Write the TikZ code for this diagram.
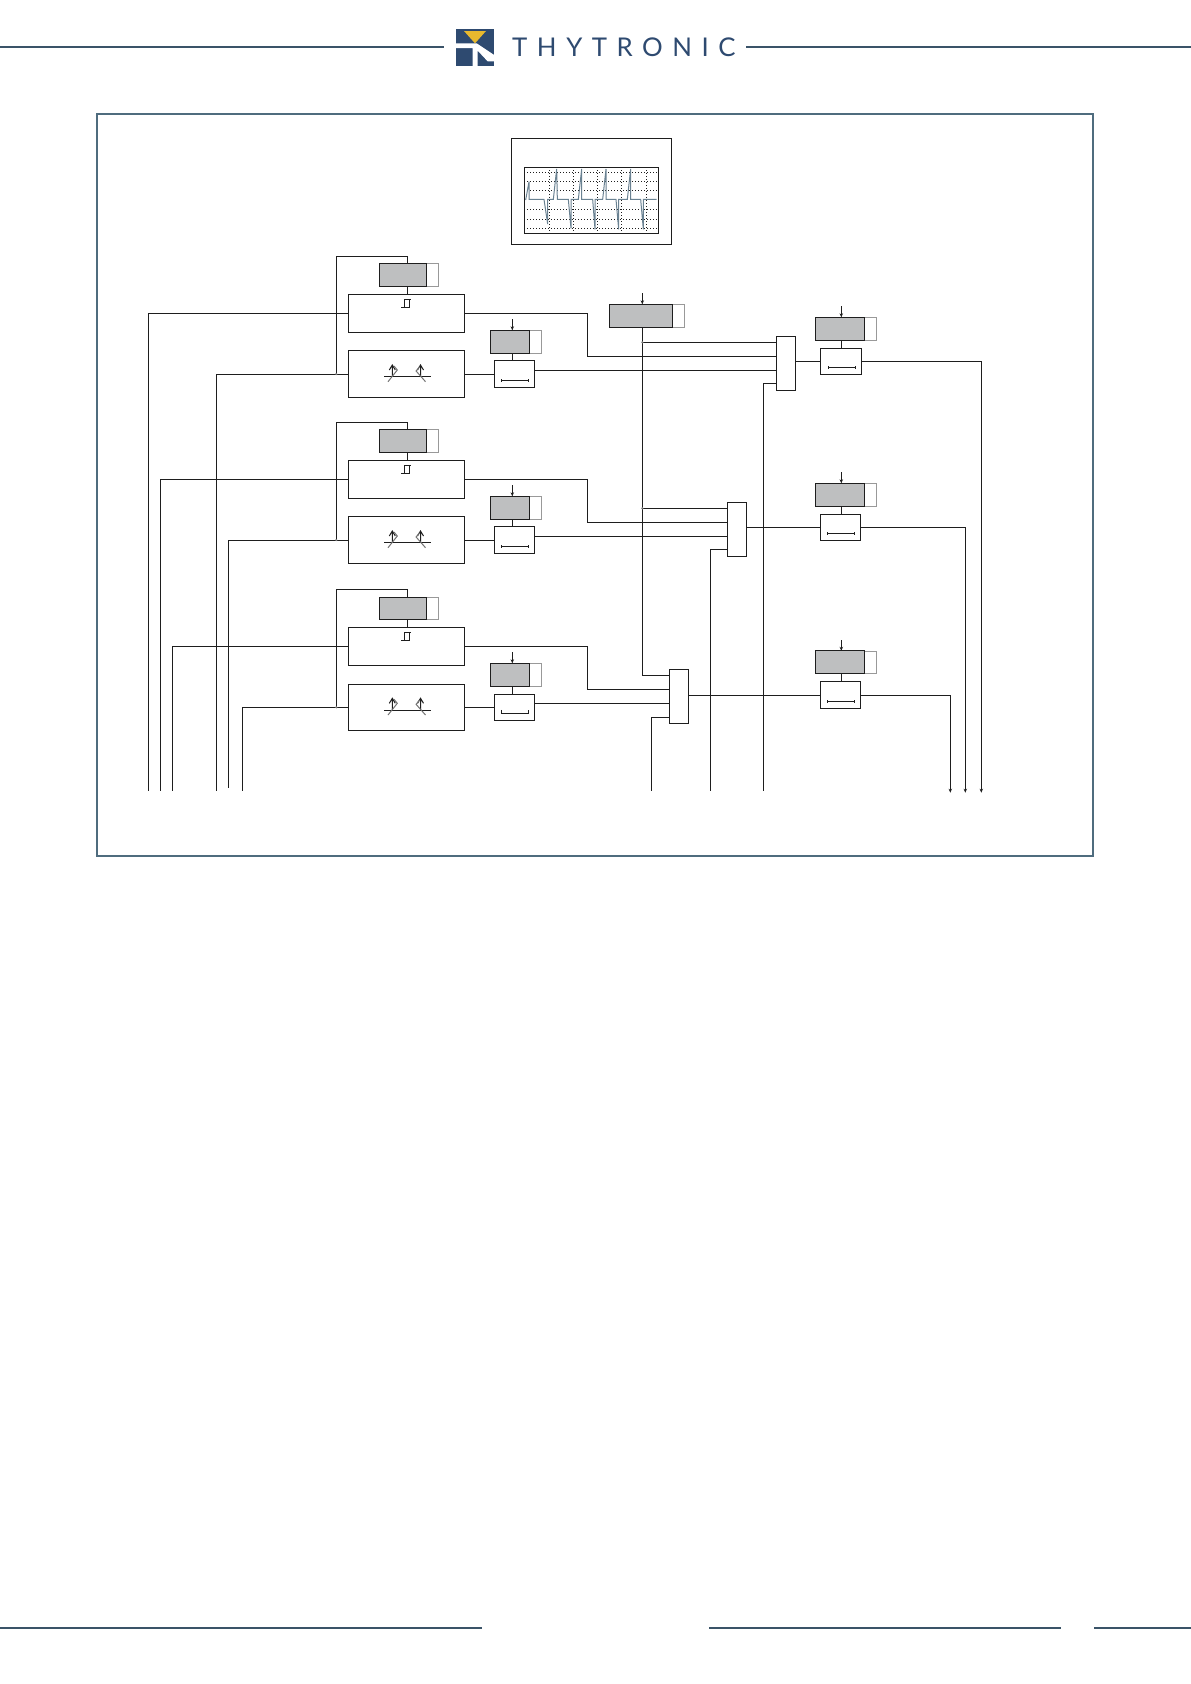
\documentclass[tikz,border=0pt]{standalone}
\usepackage{fontspec}
\usetikzlibrary{positioning, arrows.meta}
\newfontfamily\logofont[LetterSpace=37]{Lato}
\definecolor{navy}{HTML}{2E4A70}
\definecolor{rule}{HTML}{3A5368}
\definecolor{framecol}{HTML}{4F6C7E}
\definecolor{wavecol}{HTML}{6A8292}
\definecolor{wire}{HTML}{1E1E1E}
\definecolor{setfill}{HTML}{BEBFC0}
\definecolor{yell}{HTML}{E8B92E}
\tikzset{
  box/.style={draw=wire, fill=white, line width=1pt, inner sep=0pt, outer sep=0pt},
  setbox/.style={box, fill=setfill, minimum width=47.4pt, minimum height=22.6pt},
  wideset/.style={box, fill=setfill, minimum width=49.4pt, minimum height=23pt},
  smallset/.style={box, fill=setfill, minimum width=39.4pt, minimum height=23pt},
  bigset/.style={box, fill=setfill, minimum width=63pt, minimum height=23pt},
  extbox/.style={box, draw=gray!80, minimum width=14pt, minimum height=22.6pt},
  thrbox/.style={box, minimum width=116pt, minimum height=38pt},
  chrbox/.style={box, minimum width=116pt, minimum height=46.6pt},
  tmrbox/.style={box, minimum width=40.4pt, minimum height=26.4pt},
  muxbox/.style={box, minimum width=19.4pt, minimum height=54pt},
  wiring/.style={draw=wire, line width=1pt},
  sig/.style={wiring, -{Stealth[length=4pt,width=3.4pt]}},
  sym/.style={draw=wire, line width=1pt},
  junct/.style={fill=gray, draw=none}
}
\newcommand{\hystsym}[1]{
  \begin{scope}[shift={(#1.center)}]
    \draw[sym] (-5.3,-6) -- (2.7,-6) -- (2.7,-14) (-1.6,-6) -- (-1.6,-14) -- (4.4,-14);
  \end{scope}
}
\newcommand{\chrsym}[1]{
  \begin{scope}[shift={(#1.center)}]
    \draw[sym] (-22.3,2.7) -- (24.3,2.7);
    \draw[sym] (-14,2.7) -- (-14,-9) (-17,-4) -- (-14,-9) -- (-11,-4);
    \draw[sym] (14.2,2.7) -- (14.2,-9) (11.2,-4) -- (14.2,-9) -- (17.2,-4);
    \draw[sym, draw=gray!90!black] (-18.3,7.7) -- (-9,-4) -- (-12.3,-8);
    \draw[sym, draw=gray!90!black] (19.2,7.7) -- (9.8,-3) -- (13.2,-7.3);
  \end{scope}
}
\newcommand{\tmrsym}[1]{
  \begin{scope}[shift={(#1.center)}]
    \draw[sym] (-13,6.5) -- (14,6.5) (-13,5) -- (-13,8) (14,5) -- (14,8);
  \end{scope}
}

\begin{document}
\begin{tikzpicture}[x=1pt,y=-1pt]
  \useasboundingbox (0,0) rectangle (1191,1684);

  % header and footer
  \draw[rule, line width=2pt] (0,47) -- (444,47) (746,47) -- (1191,47);
  \draw[rule, line width=2pt] (0,1628) -- (482,1628) (709,1628) -- (1060.5,1628) (1094,1628) -- (1191,1628);
  \begin{scope}[shift={(450,20)}, scale=1/3]
    \fill[navy] (18,26) rectangle (131,137);
    \fill[yell] (42,33) -- (108,33) -- (75,70) -- cycle;
    \fill[white] (10,70) -- (80,70) -- (140,110) -- (140,124) -- (113,124) -- (83,92) -- (83,145) -- (68,145) -- (68,84) -- (10,84) -- cycle;
  \end{scope}
  \node[anchor=west, inner sep=0pt, text=navy] (brand) at (512,47.5) {\logofont\fontsize{25.8}{30}\selectfont THYTRONIC};

  % frame
  \draw[framecol, line width=2pt] (97.3,114) rectangle (1093,855.5);

  % oscillogram
  \node[box, minimum width=160.4pt, minimum height=106pt] (screen) at (591.5,191.3) {};
  \node[box, minimum width=134.4pt, minimum height=66pt] (graticule) at (591.5,200.3) {};
  \draw[wire, line width=0.8pt, dash pattern=on 1pt off 2pt]
    (549.7,167.3) -- (549.7,233.3) (573.7,167.3) -- (573.7,233.3) (597.7,167.3) -- (597.7,233.3)
    (621.7,167.3) -- (621.7,233.3) (646.7,167.3) -- (646.7,233.3)
    (524.3,172.3) -- (658.7,172.3) (524.3,181.7) -- (658.7,181.7) (524.3,190.7) -- (658.7,190.7)
    (524.3,209.3) -- (658.7,209.3) (524.3,219) -- (658.7,219) (524.3,228.7) -- (658.7,228.7);
  \begin{scope}[shift={(400,0)}, scale=1/3]
    \draw[wavecol, line width=1pt] (377,600) -- (387,545) -- (387,598) -- (432,598) -- (443,672) -- (443,598) -- (460,598) -- (470,507) -- (472,598) -- (505,598) -- (513,685) -- (513,598) -- (535,598) -- (545,507) -- (545,598) -- (578,598) -- (585,688) -- (585,598) -- (608,598) -- (618,507) -- (618,598) -- (648,598) -- (656,688) -- (656,598) -- (682,598) -- (692,507) -- (692,598) -- (722,598) -- (730,688) -- (730,598) -- (770,598);
  \end{scope}

  % first stage
  \node[extbox] (extA) at (431.5,275.2) {};
  \node[setbox] (setA) at (403,275.2) {};
  \node[thrbox] (thrA) at (406.3,313.3) {};
  \node[chrbox] (chrA) at (406.3,374) {};
  \node[extbox] (extD) at (534.7,341.8) {};
  \node[smallset] (setD) at (510,341.8) {};
  \node[tmrbox] (tmrA) at (514.5,374) {};
  \node[muxbox] (muxA) at (786,363.3) {};
  \node[extbox] (extP) at (869.3,328.8) {};
  \node[wideset] (setP) at (840,328.8) {};
  \node[tmrbox] (tmrP) at (841,361.3) {};

  % second stage
  \node[extbox] (extB) at (431.5,441.2) {};
  \node[setbox] (setB) at (403,441.2) {};
  \node[thrbox] (thrB) at (406.3,479.3) {};
  \node[chrbox] (chrB) at (406.3,540) {};
  \node[extbox] (extE) at (534.7,507.8) {};
  \node[smallset] (setE) at (510,507.8) {};
  \node[tmrbox] (tmrB) at (514.5,540) {};
  \node[muxbox] (muxB) at (737,529.3) {};
  \node[extbox] (extQ) at (869.3,494.8) {};
  \node[wideset] (setQ) at (840,494.8) {};
  \node[tmrbox] (tmrQ) at (840.5,527.3) {};

  % third stage
  \node[extbox] (extC) at (431.5,608.3) {};
  \node[setbox] (setC) at (403,608.3) {};
  \node[thrbox] (thrC) at (406.3,646.8) {};
  \node[chrbox] (chrC) at (406.3,707.3) {};
  \node[extbox] (extF) at (534.7,674.8) {};
  \node[smallset] (setF) at (510,674.8) {};
  \node[tmrbox] (tmrC) at (514.5,707.3) {};
  \node[muxbox] (muxC) at (679,696.3) {};
  \node[extbox] (extR) at (869.3,662.3) {};
  \node[wideset] (setR) at (840,662.3) {};
  \node[tmrbox] (tmrR) at (840.5,695) {};

  % common setting
  \node[extbox] (extX) at (677,315.8) {};
  \node[bigset] (setX) at (640.8,315.8) {};

  % symbols
  \hystsym{thrA} \hystsym{thrB} \hystsym{thrC}
  \chrsym{chrA} \chrsym{chrB} \chrsym{chrC}
  \tmrsym{tmrA} \tmrsym{tmrB}
  \tmrsym{tmrP} \tmrsym{tmrQ} \tmrsym{tmrR}
  \begin{scope}[shift={(tmrC.center)}]
    \draw[sym] (-13,2.5) -- (-13,6.5) -- (14,6.5) -- (14,2.5);
  \end{scope}

  % free ends
  \coordinate (tapA) at (407.7,256);
  \coordinate (tapB) at (407.7,422.3);
  \coordinate (tapC) at (407.7,589.3);
  \coordinate (dotA) at (336.3,374);
  \coordinate (dotB) at (336.3,540);
  \coordinate (dotC) at (336.3,707.3);
  \coordinate (inA) at (148.3,790.7);
  \coordinate (inB) at (160.3,790.7);
  \coordinate (inC) at (172.3,790.7);
  \coordinate (inD) at (216.3,790.7);
  \coordinate (inE) at (228.3,787.7);
  \coordinate (inF) at (242.3,790.7);
  \coordinate (bendA) at (587.3,356.3);
  \coordinate (bendB) at (587.3,522.3);
  \coordinate (bendC) at (587.3,689.3);
  \coordinate (busA) at (763.3,790.7);
  \coordinate (busB) at (710.3,790.7);
  \coordinate (busC) at (651.3,790.7);
  \coordinate (outA) at (981.3,792.7);
  \coordinate (outB) at (965.3,792.7);
  \coordinate (outC) at (950.3,792.7);
  \coordinate (cmdD) at (512.3,319.3);
  \coordinate (cmdE) at (512.3,485.3);
  \coordinate (cmdF) at (512.3,652.3);
  \coordinate (cmdP) at (841.3,306);
  \coordinate (cmdQ) at (841.3,472.3);
  \coordinate (cmdR) at (841.3,640);
  \coordinate (cmdX) at (642.3,293.3);

  % first stage wiring
  \draw[wiring] (setA.north -| tapA) -- (tapA) -| (dotA);
  \draw[wiring] (setA.south -| tapA) -- (thrA.north -| tapA);
  \draw[wiring] (thrA.west) -| (inA);
  \draw[wiring] (chrA.west) -| (inD);
  \draw[wiring] (thrA.east) -| (bendA) -- (bendA -| muxA.west);
  \draw[wiring] (chrA.east) -- (tmrA.west);
  \draw[wiring] (setD.south -| cmdD) -- (tmrA.north -| cmdD);
  \draw[sig] (cmdD) -- (setD.north -| cmdD);
  \draw[wiring] ([yshift=4pt]tmrA.east) -- ([yshift=4pt]tmrA.east -| muxA.west);
  \draw[wiring] ([yshift=-20.4pt]muxA.west) -| (busA);
  \draw[wiring] (muxA.east |- tmrP.west) -- (tmrP.west);
  \draw[wiring] (setP.south -| cmdP) -- (tmrP.north -| cmdP);
  \draw[sig] (cmdP) -- (setP.north -| cmdP);
  \draw[sig] (tmrP.east) -| (outA);

  % second stage wiring
  \draw[wiring] (setB.north -| tapB) -- (tapB) -| (dotB);
  \draw[wiring] (setB.south -| tapB) -- (thrB.north -| tapB);
  \draw[wiring] (thrB.west) -| (inB);
  \draw[wiring] (chrB.west) -| (inE);
  \draw[wiring] (thrB.east) -| (bendB) -- (bendB -| muxB.west);
  \draw[wiring] (chrB.east) -- (tmrB.west);
  \draw[wiring] (setE.south -| cmdE) -- (tmrB.north -| cmdE);
  \draw[sig] (cmdE) -- (setE.north -| cmdE);
  \draw[wiring] ([yshift=4pt]tmrB.east) -- ([yshift=4pt]tmrB.east -| muxB.west);
  \draw[wiring] ([yshift=-20pt]muxB.west) -| (busB);
  \draw[wiring] (muxB.east |- tmrQ.west) -- (tmrQ.west);
  \draw[wiring] (setQ.south -| cmdQ) -- (tmrQ.north -| cmdQ);
  \draw[sig] (cmdQ) -- (setQ.north -| cmdQ);
  \draw[sig] (tmrQ.east) -| (outB);

  % third stage wiring
  \draw[wiring] (setC.north -| tapC) -- (tapC) -| (dotC);
  \draw[wiring] (setC.south -| tapC) -- (thrC.north -| tapC);
  \draw[wiring] (thrC.west) -| (inC);
  \draw[wiring] (chrC.west) -| (inF);
  \draw[wiring] (thrC.east) -| (bendC) -- (bendC -| muxC.west);
  \draw[wiring] (chrC.east) -- (tmrC.west);
  \draw[wiring] (setF.south -| cmdF) -- (tmrC.north -| cmdF);
  \draw[sig] (cmdF) -- (setF.north -| cmdF);
  \draw[wiring] ([yshift=4pt]tmrC.east) -- ([yshift=4pt]tmrC.east -| muxC.west);
  \draw[wiring] ([yshift=-21pt]muxC.west) -| (busC);
  \draw[wiring] (muxC.east |- tmrR.west) -- (tmrR.west);
  \draw[wiring] (setR.south -| cmdR) -- (tmrR.north -| cmdR);
  \draw[sig] (cmdR) -- (setR.north -| cmdR);
  \draw[sig] (tmrR.east) -| (outC);

  % common setting wiring
  \draw[sig] (cmdX) -- (setX.north -| cmdX);
  \draw[wiring] (setX.south -| cmdX) |- ([yshift=21pt]muxC.west);
  \draw[wiring] ([yshift=21pt]muxA.west) -- ([yshift=21pt]muxA.west -| cmdX);
  \draw[wiring] ([yshift=21pt]muxB.west) -- ([yshift=21pt]muxB.west -| cmdX);

  % junction marks
  \fill[junct] (dotA) circle (1.2);
  \fill[junct] (dotB) circle (1.2);
  \fill[junct] (dotC) circle (1.2);
  \fill[junct] ([yshift=21pt]muxA.west -| cmdX) circle (1.2);
  \fill[junct] ([yshift=21pt]muxB.west -| cmdX) circle (1.2);
\end{tikzpicture}
\end{document}
